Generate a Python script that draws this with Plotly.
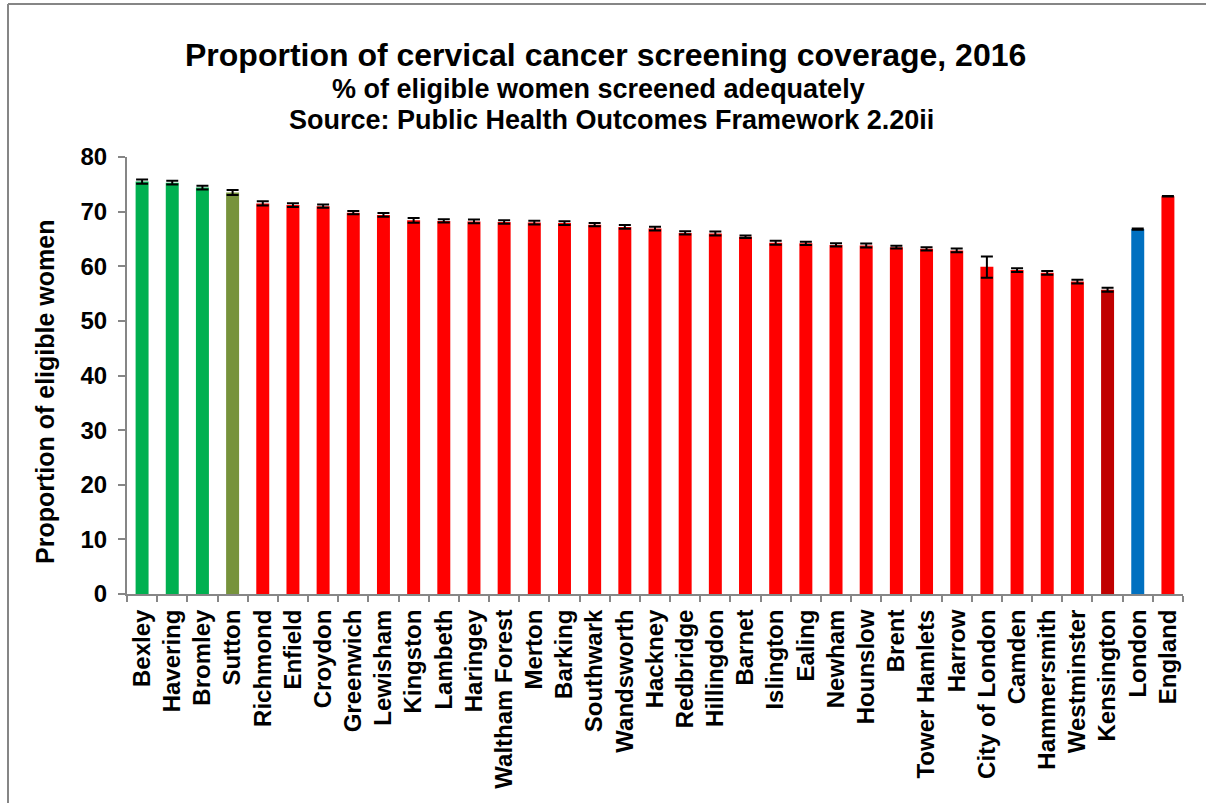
import plotly.graph_objects as go

# ── data ─────────────────────────────────────────────────────────────────────
AREAS = [
    "Bexley", "Havering", "Bromley", "Sutton", "Richmond", "Enfield", "Croydon",
    "Greenwich", "Lewisham", "Kingston", "Lambeth", "Haringey", "Waltham Forest",
    "Merton", "Barking", "Southwark", "Wandsworth", "Hackney", "Redbridge",
    "Hillingdon", "Barnet", "Islington", "Ealing", "Newham", "Hounslow", "Brent",
    "Tower Hamlets", "Harrow", "City of London", "Camden", "Hammersmith",
    "Westminster", "Kensington", "London", "England",
]
COVERAGE = [
    75.5, 75.3, 74.4, 73.5, 71.5, 71.2, 71.0,
    69.8, 69.4, 68.4, 68.3, 68.2, 68.1,
    68.0, 67.9, 67.6, 67.2, 66.9, 66.1,
    66.0, 65.4, 64.3, 64.2, 63.9, 63.8, 63.5,
    63.2, 62.9, 59.9, 59.3, 58.8,
    57.2, 55.7, 66.8, 72.8,
]
CI_UPPER = [
    0.4, 0.35, 0.35, 0.45, 0.4, 0.35, 0.3,
    0.3, 0.35, 0.45, 0.3, 0.35, 0.3,
    0.35, 0.35, 0.3, 0.35, 0.35, 0.3,
    0.35, 0.25, 0.35, 0.3, 0.3, 0.35, 0.25,
    0.3, 0.35, 1.9, 0.35, 0.35,
    0.35, 0.35, 0.1, 0.05,
]
CI_LOWER = [
    0.4, 0.35, 0.35, 0.45, 0.4, 0.35, 0.3,
    0.3, 0.35, 0.45, 0.3, 0.35, 0.3,
    0.35, 0.35, 0.3, 0.35, 0.35, 0.3,
    0.35, 0.25, 0.35, 0.3, 0.3, 0.35, 0.25,
    0.3, 0.35, 2.0, 0.35, 0.35,
    0.35, 0.35, 0.1, 0.05,
]
# comparison group vs England benchmark
GROUP = ["better"] * 3 + ["similar"] + ["worse"] * 28 + ["worst", "region", "england"]

Y_TICKS = list(range(0, 90, 10))

# ── styling ──────────────────────────────────────────────────────────────────
GROUP_COLORS = {
    "better": "#00B050",
    "similar": "#77933C",
    "worse": "#FF0000",
    "worst": "#C00000",
    "region": "#0070C0",
    "england": "#FF0000",
}
FONT = "Arial, 'Liberation Sans', sans-serif"
AXIS_COL = "#868686"

# plot area in pixels (for placing annotations)
L, R, T, B = 127, 1183, 157, 594
W, H = R - L, B - T


def px_x(x):
    return (x - L) / W


def px_y(y):
    return (B - y) / H


fig = go.Figure()
fig.add_trace(go.Bar(
    x=AREAS,
    y=COVERAGE,
    marker=dict(color=[GROUP_COLORS[g] for g in GROUP], line=dict(width=0)),
    error_y=dict(
        type="data", symmetric=False,
        array=CI_UPPER, arrayminus=CI_LOWER,
        color="#000000", thickness=2, width=6,
    ),
    showlegend=False,
))

titles = [
    ("Proportion of cervical cancer screening coverage, 2016", 32, 55, 605),
    ("% of eligible women screened adequately", 27, 89, 598),
    ("Source: Public Health Outcomes Framework 2.20ii", 27, 120, 611),
]
for text, size, ypix, xpix in titles:
    fig.add_annotation(
        text=f"<b>{text}</b>", xref="paper", yref="paper",
        x=px_x(xpix), y=px_y(ypix), xanchor="center", yanchor="middle",
        showarrow=False, font=dict(family=FONT, size=size, color="#000000"),
    )

fig.add_annotation(
    text="<b>Proportion of eligible women</b>", xref="paper", yref="paper",
    x=px_x(45), y=px_y(392), xanchor="center", yanchor="middle",
    textangle=-90, showarrow=False,
    font=dict(family=FONT, size=25, color="#000000"),
)

# outer chart border: only the top and left edges show in the crop
border = dict(type="line", xref="paper", yref="paper",
              line=dict(color="#868686", width=2))
fig.add_shape(**border, x0=px_x(8), x1=px_x(1206), y0=px_y(4), y1=px_y(4))
fig.add_shape(**border, x0=px_x(8), x1=px_x(8), y0=px_y(4), y1=px_y(803))

fig.update_layout(
    width=1206, height=803,
    paper_bgcolor="#ffffff", plot_bgcolor="#ffffff",
    margin=dict(l=L, r=1206 - R, t=T, b=803 - B, autoexpand=False),
    bargap=0.57,
    font=dict(family=FONT, color="#000000"),
    xaxis=dict(
        type="category", tickangle=-90,
        tickfont=dict(family=FONT, size=24, color="#000000"),
        ticks="outside", tickson="boundaries", ticklen=6, tickwidth=2,
        tickcolor=AXIS_COL, showline=True, linecolor=AXIS_COL, linewidth=2,
        showgrid=False, ticklabelstandoff=4,
    ),
    yaxis=dict(
        range=[0, 80], tickvals=Y_TICKS,
        ticktext=[f"<b>{v}</b>" for v in Y_TICKS],
        tickfont=dict(family=FONT, size=24, color="#000000"),
        ticks="outside", ticklen=7, tickwidth=2, tickcolor=AXIS_COL,
        showline=True, linecolor=AXIS_COL, linewidth=2,
        showgrid=False, zeroline=False, ticklabelstandoff=6,
    ),
)
fig.update_xaxes(ticktext=[f"<b>{a}</b>" for a in AREAS], tickvals=AREAS)

fig.write_html(
    "out.html",
    config={"displayModeBar": False},
    post_script=(
        "document.body.style.margin='0';"
        "document.body.style.overflow='hidden';"
        "document.documentElement.style.overflow='hidden';"
    ),
)
